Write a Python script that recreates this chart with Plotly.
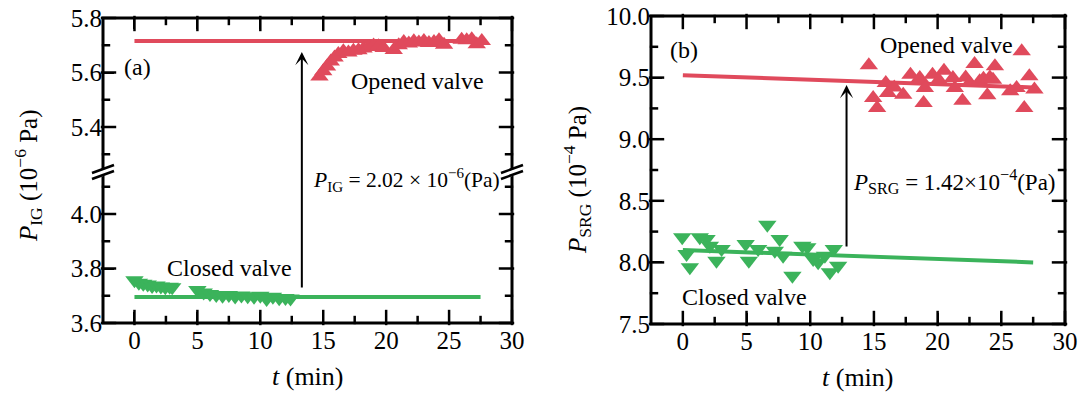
import plotly.graph_objects as go

W, H = 1092, 394

# ---------------- data: panel (a) ionization gauge ----------------
t_closed_a = [0.0, 0.35, 0.7, 1.05, 1.4, 1.75, 2.1, 2.45, 2.8, 3.0,
              5.0, 5.5, 6.0, 6.5, 7.0, 7.5, 8.0, 8.5, 9.0, 9.5, 10.0, 10.5, 11.0, 11.5, 12.0, 12.4]
p_closed_a = [3.757, 3.748, 3.744, 3.741, 3.736, 3.738, 3.734, 3.731, 3.733, 3.731,
              3.721, 3.712, 3.706, 3.703, 3.700, 3.703, 3.697, 3.701, 3.698, 3.696, 3.700, 3.688, 3.696, 3.691, 3.692, 3.690]
t_open_a = [14.7, 15.0, 15.3, 15.6, 15.9, 16.2, 16.6, 17.0, 17.4, 17.8, 18.2, 18.6, 19.0, 19.4, 19.8,
            20.6, 21.0, 21.4, 21.8, 22.2, 22.6, 23.0, 23.4, 23.8, 24.2, 24.6, 26.0, 26.4, 26.8, 27.2, 27.6]
p_open_a = [5.585, 5.605, 5.622, 5.640, 5.655, 5.668, 5.678, 5.673, 5.680, 5.682, 5.688, 5.694, 5.699, 5.696, 5.690,
            5.683, 5.700, 5.712, 5.706, 5.715, 5.710, 5.716, 5.708, 5.712, 5.718, 5.702, 5.720, 5.718, 5.722, 5.704, 5.716]
fit_t_a = [0.0, 27.5]
fit_closed_a = [3.695, 3.695]
fit_open_a = [5.716, 5.716]

# ---------------- data: panel (b) spinning rotor gauge ----------------
t_closed_b = [-0.05, 0.29, 0.55, 1.33, 1.86, 2.12, 2.64, 3.04, 4.93, 5.18, 5.91, 6.63, 7.22, 7.6,
              7.87, 8.6, 9.38, 9.77, 10.23, 10.62, 11.15, 11.54, 11.85, 12.19]
p_closed_b = [8.204, 8.068, 7.960, 8.204, 8.190, 8.136, 8.014, 8.109, 8.149, 8.014, 8.109, 8.306, 8.095, 8.190,
              8.054, 7.892, 8.136, 8.123, 8.028, 8.001, 8.054, 7.920, 8.109, 7.973]
t_open_b = [14.6, 14.94, 15.25, 15.93, 16.1, 16.6, 17.3, 17.87, 18.6, 18.9, 19.0, 19.6, 20.1, 20.5, 21.2,
            21.35, 21.95, 22.2, 22.5, 22.9, 23.3, 23.6, 23.9, 24.1, 24.35, 24.5, 25.7, 26.2, 26.6, 26.8, 27.2, 27.6]
p_open_b = [9.600, 9.334, 9.253, 9.456, 9.375, 9.420, 9.361, 9.524, 9.497, 9.294, 9.416, 9.524, 9.480, 9.556, 9.497,
            9.416, 9.313, 9.500, 9.456, 9.610, 9.470, 9.490, 9.356, 9.500, 9.483, 9.592, 9.389, 9.416, 9.713, 9.253, 9.511, 9.403]
fit_t_b = [0.0, 27.5]
fit_closed_b = [8.10, 8.00]
fit_open_b = [9.52, 9.42]

# ---------------- ticks ----------------
t_major = [0, 5, 10, 15, 20, 25, 30]
t_minor = [2.5, 7.5, 12.5, 17.5, 22.5, 27.5]
pa_low_major = [3.6, 3.8, 4.0]
pa_low_minor = [3.7, 3.9, 4.1]
pa_up_major = [5.4, 5.6, 5.8]
pa_up_minor = [5.3, 5.5, 5.7]
pb_major = [7.5, 8.0, 8.5, 9.0, 9.5, 10.0]
pb_minor = [7.75, 8.25, 8.75, 9.25, 9.75]

# arrows / difference annotations
arrow_t_a, arrow_top_a, arrow_bottom_a = 13.3, 5.675, 3.725
arrow_t_b, arrow_top_b, arrow_bottom_b = 12.85, 9.44, 8.117

RED = '#E04A5C'
GREEN = '#3BB35B'
FONT = 'Liberation Serif'
MAJ_LEN, MIN_LEN = 11, 6


def px(x):
    return x / W


def py(y):
    return 1 - y / H


# layout geometry (pixels)
A_L, A_R, A_T, A_B, A_BRK = 103, 512, 18, 323, 172
B_L, B_R, B_T, B_B = 651, 1065, 16, 324
A_SCALE = 272.5  # px per unit on panel (a) y axes

tickfont = dict(family=FONT, size=25, color='black')
T_RANGE = [-2.5, 30]
low_rng = [3.6, 3.6 + (A_B - A_BRK) / A_SCALE]
up_rng = [5.8 - (A_BRK - A_T) / A_SCALE, 5.8]
b_rng = [7.5, 10.0]

# pixels per data unit on each axis (for the tick-mark lengths)
AX_PPU = (A_R - A_L) / (T_RANGE[1] - T_RANGE[0])
BX_PPU = (B_R - B_L) / (T_RANGE[1] - T_RANGE[0])
BY_PPU = (B_B - B_T) / (b_rng[1] - b_rng[0])


def base_axis(**kw):
    d = dict(ticks='inside', ticklen=MAJ_LEN, tickwidth=2, tickcolor='black',
             showline=False, showgrid=False, zeroline=False,
             tickfont=tickfont, fixedrange=True, automargin=False)
    d.update(kw)
    return d


fig = go.Figure()

line_kw = dict(mode='lines', showlegend=False, hoverinfo='skip')
fig.add_trace(go.Scatter(x=fit_t_a, y=fit_closed_a, xaxis='x', yaxis='y', line=dict(color=GREEN, width=4), **line_kw))
fig.add_trace(go.Scatter(x=fit_t_a, y=fit_open_a, xaxis='x2', yaxis='y2', line=dict(color=RED, width=4), **line_kw))
fig.add_trace(go.Scatter(x=fit_t_b, y=fit_closed_b, xaxis='x3', yaxis='y3', line=dict(color=GREEN, width=4), **line_kw))
fig.add_trace(go.Scatter(x=fit_t_b, y=fit_open_b, xaxis='x3', yaxis='y3', line=dict(color=RED, width=4), **line_kw))

mk = 16
fig.add_trace(go.Scatter(x=t_closed_a, y=p_closed_a, xaxis='x', yaxis='y', mode='markers', showlegend=False,
                         marker=dict(symbol='triangle-down', size=mk, color=GREEN, line=dict(width=0))))
fig.add_trace(go.Scatter(x=t_open_a, y=p_open_a, xaxis='x2', yaxis='y2', mode='markers', showlegend=False,
                         marker=dict(symbol='triangle-up', size=mk, color=RED, line=dict(width=0))))
fig.add_trace(go.Scatter(x=t_closed_b, y=p_closed_b, xaxis='x3', yaxis='y3', mode='markers', showlegend=False,
                         marker=dict(symbol='triangle-down', size=mk, color=GREEN, line=dict(width=0))))
fig.add_trace(go.Scatter(x=t_open_b, y=p_open_b, xaxis='x3', yaxis='y3', mode='markers', showlegend=False,
                         marker=dict(symbol='triangle-up', size=mk, color=RED, line=dict(width=0))))


# ---------------- tick marks: line-shaped markers centred half a tick inside the frame ----------------
def add_ticks(xa, ya, xs, ys, length, vertical):
    fig.add_trace(go.Scatter(
        x=xs, y=ys, xaxis=xa, yaxis=ya, mode='markers', showlegend=False, hoverinfo='skip',
        cliponaxis=False,
        marker=dict(symbol='line-ns-open' if vertical else 'line-ew-open', size=length,
                    color='black', line=dict(color='black', width=2.5))))


def xtick_set(xa, ya, vals, edge, ppu, length, sgn):
    ys = [edge + sgn * (length / 2) / ppu] * len(vals)
    add_ticks(xa, ya, list(vals), ys, length, True)


def ytick_set(xa, ya, vals, edge, ppu, length, sgn):
    xs = [edge + sgn * (length / 2) / ppu] * len(vals)
    add_ticks(xa, ya, xs, list(vals), length, False)


# panel (a)
xtick_set('x', 'y', t_major, low_rng[0], A_SCALE, MAJ_LEN, 1)
xtick_set('x', 'y', t_minor, low_rng[0], A_SCALE, MIN_LEN, 1)
xtick_set('x2', 'y2', t_major, up_rng[1], A_SCALE, MAJ_LEN, -1)
xtick_set('x2', 'y2', t_minor, up_rng[1], A_SCALE, MIN_LEN, -1)
for edge, sgn in ((T_RANGE[0], 1), (T_RANGE[1], -1)):
    ytick_set('x', 'y', pa_low_major, edge, AX_PPU, MAJ_LEN, sgn)
    ytick_set('x', 'y', pa_low_minor, edge, AX_PPU, MIN_LEN, sgn)
    ytick_set('x2', 'y2', pa_up_major, edge, AX_PPU, MAJ_LEN, sgn)
    ytick_set('x2', 'y2', pa_up_minor, edge, AX_PPU, MIN_LEN, sgn)
# panel (b)
for edge, sgn in ((b_rng[0], 1), (b_rng[1], -1)):
    xtick_set('x3', 'y3', t_major, edge, BY_PPU, MAJ_LEN, sgn)
    xtick_set('x3', 'y3', t_minor, edge, BY_PPU, MIN_LEN, sgn)
for edge, sgn in ((T_RANGE[0], 1), (T_RANGE[1], -1)):
    ytick_set('x3', 'y3', pb_major, edge, BX_PPU, MAJ_LEN, sgn)
    ytick_set('x3', 'y3', pb_minor, edge, BX_PPU, MIN_LEN, sgn)

a_xdom = [px(A_L), px(A_R)]
b_xdom = [px(B_L), px(B_R)]

fig.update_layout(
    width=W, height=H, margin=dict(l=0, r=0, t=0, b=0, pad=0, autoexpand=False),
    paper_bgcolor='white', plot_bgcolor='white',
    font=dict(family=FONT, color='black'),
    xaxis=base_axis(domain=a_xdom, anchor='y', range=T_RANGE, tickmode='array', tickvals=t_major),
    xaxis2=base_axis(domain=a_xdom, anchor='y2', range=T_RANGE, tickmode='array', tickvals=t_major,
                     side='top', showticklabels=False),
    yaxis=base_axis(domain=[py(A_B), py(A_BRK)], anchor='x', range=low_rng, tickmode='array',
                    tickvals=pa_low_major, tickformat='.1f'),
    yaxis2=base_axis(domain=[py(A_BRK), py(A_T)], anchor='x2', range=up_rng, tickmode='array',
                     tickvals=pa_up_major, tickformat='.1f'),
    xaxis3=base_axis(domain=b_xdom, anchor='y3', range=T_RANGE, tickmode='array', tickvals=t_major),
    yaxis3=base_axis(domain=[py(B_B), py(B_T)], anchor='x3', range=b_rng, tickmode='array',
                     tickvals=pb_major, tickformat='.1f'),
)

ann = []


def text(x, y, s, size, xanchor='center', yanchor='middle', angle=0):
    ann.append(dict(x=px(x), y=py(y), xref='paper', yref='paper', text=s, showarrow=False,
                    xanchor=xanchor, yanchor=yanchor, textangle=angle,
                    font=dict(family=FONT, size=size, color='black')))


text(122, 67, '(a)', 24, xanchor='left')
text(668, 50, '(b)', 24, xanchor='left')
text(418, 81, 'Opened valve', 24)
text(229, 268, 'Closed valve', 24)
text(946, 45, 'Opened valve', 24)
text(744, 297, 'Closed valve', 24)
text(311, 180, '<i>P</i><sub>IG</sub> = 2.02 × 10<sup>−6</sup>(Pa)', 21.5, xanchor='left')
text(851, 181, '<i>P</i><sub>SRG</sub> = 1.42×10<sup>−4</sup>(Pa)', 23, xanchor='left')
text(28, 176, '<i>P</i><sub>IG</sub> (10<sup>−6</sup> Pa)', 25, angle=-90)
text(577, 180, '<i>P</i><sub>SRG</sub> (10<sup>−4</sup> Pa)', 25, angle=-90)
text((A_L + A_R) / 2, 376, '<i>t</i> (min)', 26)
text(858, 377, '<i>t</i> (min)', 26)

# arrows: panel (a) spans the axis break, so its tail is given as a pixel offset
y_top_px = A_T + (5.8 - arrow_top_a) * A_SCALE
y_bot_px = A_B - (arrow_bottom_a - 3.6) * A_SCALE
ann.append(dict(x=arrow_t_a, y=arrow_top_a, xref='x2', yref='y2', text='', showarrow=True,
                ax=0, ay=y_bot_px - y_top_px, axref='pixel', ayref='pixel',
                arrowhead=3, arrowsize=1.1, arrowwidth=2, arrowcolor='black', standoff=0))
ann.append(dict(x=arrow_t_b, y=arrow_top_b, xref='x3', yref='y3', text='', showarrow=True,
                ax=arrow_t_b, ay=arrow_bottom_b, axref='x3', ayref='y3',
                arrowhead=3, arrowsize=1.1, arrowwidth=2, arrowcolor='black', standoff=0))

fig.update_layout(annotations=ann)

# ---------------- frames and axis-break marks ----------------
shapes = []
shapes.append(dict(type='rect', xref='paper', yref='paper', layer='above',
                   x0=px(A_L), x1=px(A_R), y0=py(A_B), y1=py(A_T), line=dict(color='black', width=3)))
shapes.append(dict(type='rect', xref='paper', yref='paper', layer='above',
                   x0=px(B_L), x1=px(B_R), y0=py(B_B), y1=py(B_T), line=dict(color='black', width=3)))

for xb in (A_L, A_R):
    yc = A_BRK
    shapes.append(dict(type='line', xref='paper', yref='paper', layer='above',
                       x0=px(xb - 4), y0=py(yc + 2.5), x1=px(xb + 4), y1=py(yc - 0.5),
                       line=dict(color='white', width=6)))
    for off in (-3, 3):
        shapes.append(dict(type='line', xref='paper', yref='paper', layer='above',
                           x0=px(xb - 11), y0=py(yc + 4 + off), x1=px(xb + 11), y1=py(yc - 4 + off),
                           line=dict(color='black', width=2.5)))
fig.update_layout(shapes=shapes)

fig.write_html('out.html')
